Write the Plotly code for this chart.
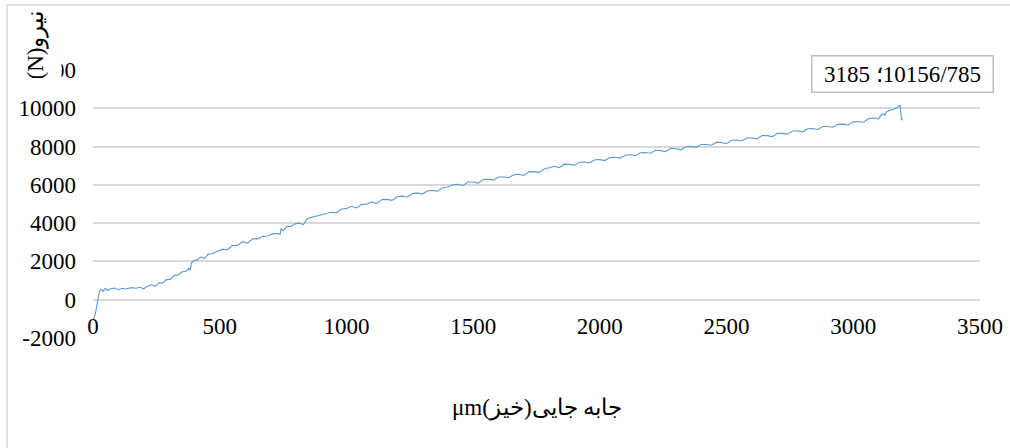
import plotly.graph_objects as go

# Displacement (μm) and force (N)
displacement_um = [
    0, 5, 10, 15, 20, 25, 32, 40, 48, 58, 70, 85, 100, 115, 130, 150, 170, 185, 200,
    215, 230, 245, 260, 275, 290, 305, 320, 335, 350, 365, 378, 383, 388, 395, 410,
    425, 440, 455, 470, 490, 510, 530, 550, 570, 590, 610, 630, 650, 670, 690, 710,
    730, 738, 742, 750, 765, 780, 800, 815, 830, 845, 860, 880, 900, 920, 940, 960,
    980, 1000, 1020, 1040, 1060, 1080, 1100, 1120, 1140, 1160, 1180, 1200, 1220,
    1240, 1260, 1280, 1300, 1320, 1340, 1360, 1380, 1400, 1420, 1440, 1460, 1480,
    1500, 1520, 1540, 1560, 1580, 1600, 1620, 1640, 1660, 1680, 1700, 1720, 1740,
    1760, 1780, 1800, 1820, 1840, 1860, 1880, 1900, 1920, 1940, 1960, 1980, 2000,
    2020, 2040, 2060, 2080, 2100, 2120, 2140, 2160, 2180, 2200, 2220, 2240, 2260,
    2280, 2300, 2320, 2340, 2360, 2380, 2400, 2420, 2440, 2460, 2480, 2500, 2520,
    2540, 2560, 2580, 2600, 2620, 2640, 2660, 2680, 2700, 2720, 2740, 2760, 2780,
    2800, 2820, 2840, 2860, 2880, 2900, 2920, 2940, 2960, 2980, 3000, 3020, 3040,
    3060, 3080, 3100, 3110, 3120, 3125, 3130, 3145, 3160, 3175, 3185, 3190, 3195,
]
force_n = [
    -1000, -900, -700, -300, 200, 420, 540, 430, 600, 480, 570, 610, 520, 600, 560,
    630, 600, 650, 570, 710, 780, 700, 880, 880, 1050, 1060, 1270, 1280, 1450, 1480,
    1640, 1530, 1900, 2020, 2080, 2230, 2160, 2380, 2400, 2530, 2640, 2600, 2830,
    2830, 3030, 2960, 3180, 3180, 3310, 3330, 3450, 3460, 3400, 3720, 3600, 3830,
    3830, 3980, 4000, 3920, 4230, 4290, 4370, 4440, 4530, 4570, 4540, 4730, 4770,
    4880, 4800, 4980, 4990, 5110, 5030, 5230, 5240, 5190, 5380, 5410, 5370, 5550,
    5570, 5530, 5680, 5710, 5670, 5850, 5890, 6000, 6030, 5970, 6150, 6150, 6090,
    6280, 6290, 6250, 6410, 6410, 6370, 6530, 6550, 6490, 6680, 6690, 6650, 6830,
    6890, 6970, 6900, 7080, 7070, 7030, 7180, 7190, 7150, 7310, 7320, 7270, 7430,
    7440, 7400, 7550, 7570, 7520, 7680, 7690, 7650, 7810, 7790, 7730, 7910, 7890,
    7830, 7990, 8010, 7950, 8110, 8110, 8070, 8230, 8210, 8150, 8330, 8340, 8290,
    8450, 8450, 8400, 8570, 8570, 8520, 8680, 8690, 8650, 8810, 8810, 8770, 8930,
    8940, 8890, 9050, 9050, 9010, 9160, 9170, 9130, 9290, 9310, 9270, 9450, 9490,
    9450, 9650, 9720, 9620, 9800, 9900, 9950, 10050, 10156.785, 9400, 9420,
]

peak_label = "3185 ؛10156/785"

x_ticks = [0, 500, 1000, 1500, 2000, 2500, 3000, 3500]
y_ticks = [-2000, 0, 2000, 4000, 6000, 8000, 10000, 12000]

x_title = "جابه جایی(خیز)μm"
y_title = "نیرو(N)"

FONT = "Liberation Serif"
FS = 23
GRID = "#d9d9d9"

# layout geometry (pixels)
W, H = 1010, 448
L, R, T, B = 93, 30, 70, 110
pw, ph = W - L - R, H - T - B
yr = [-2000, 12000]
zero_pos = (0 - yr[0]) / (yr[1] - yr[0])

def px_x(p):
    return (p - L) / pw

def px_y(p):
    return (H - B - p) / ph

fig = go.Figure()
fig.add_trace(go.Scatter(
    x=displacement_um, y=force_n, mode="lines",
    line=dict(color="#5b9bd5", width=1.1),
    showlegend=False, hoverinfo="x+y",
))

fig.update_layout(
    width=W, height=H,
    margin=dict(l=L, r=R, t=T, b=B, autoexpand=False),
    paper_bgcolor="white", plot_bgcolor="white",
    font=dict(family=FONT, size=FS, color="#000000"),
    xaxis=dict(
        range=[0, 3500], tickvals=x_ticks, ticktext=[str(v) for v in x_ticks],
        showgrid=False, zeroline=False, showline=False, ticks="",
        anchor="free", position=zero_pos, ticklabelstandoff=10,
        automargin=False,
        tickfont=dict(family=FONT, size=FS, color="#000"),
    ),
    yaxis=dict(
        range=yr, tickvals=y_ticks, ticktext=[str(v) for v in y_ticks],
        showgrid=True, gridcolor=GRID, gridwidth=1.6, zeroline=False,
        showline=False, ticks="", ticklabelstandoff=16, automargin=False,
        tickfont=dict(family=FONT, size=FS, color="#000"),
    ),
    shapes=[dict(
        type="rect", xref="paper", yref="paper",
        x0=px_x(7), x1=px_x(1040), y0=px_y(480), y1=px_y(5),
        line=dict(color=GRID, width=1.5), fillcolor="rgba(0,0,0,0)", layer="below",
    )],
    annotations=[
        dict(
            text="\u202D" + peak_label + "\u202C",
            xref="paper", yref="paper", x=px_x(902), y=px_y(73.5),
            xanchor="center", yanchor="middle", showarrow=False,
            width=170,
            font=dict(family=FONT, size=FS, color="#000"),
            bgcolor="white", bordercolor="#bfbfbf", borderwidth=1.5, borderpad=5,
        ),
        dict(
            text="\u202B" + x_title + "\u202C",
            xref="paper", yref="paper", x=px_x(537), y=px_y(408),
            xanchor="center", yanchor="middle", showarrow=False,
            font=dict(family=FONT, size=FS, color="#000"),
        ),
        dict(
            text="\u202B" + y_title + "\u202C",
            xref="paper", yref="paper", x=px_x(36), y=px_y(45),
            xanchor="center", yanchor="middle", showarrow=False, textangle=-90,
            width=66, height=48,
            font=dict(family=FONT, size=FS, color="#000"),
            bgcolor="white",
        ),
    ],
)

fig.write_html(
    "out.html",
    config={"displayModeBar": False},
    post_script="document.body.style.margin='0';document.body.style.overflow='hidden';",
)
